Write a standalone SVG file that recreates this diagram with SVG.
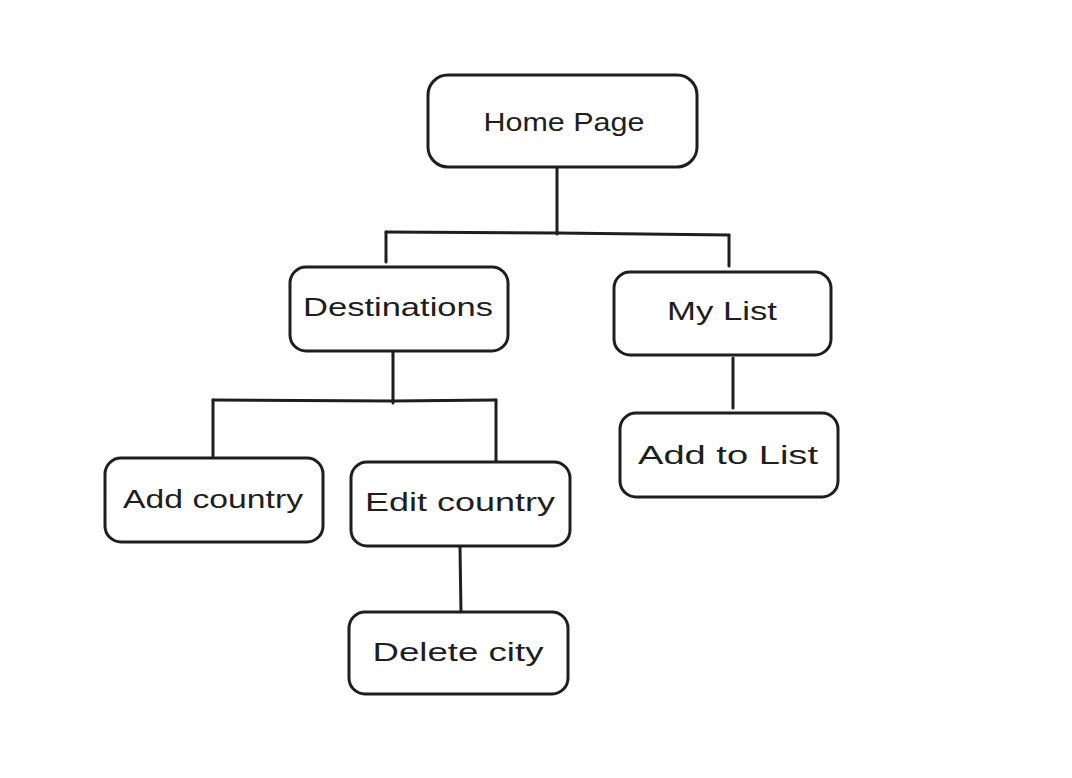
<svg xmlns="http://www.w3.org/2000/svg" width="1072" height="778" viewBox="0 0 1072 778">
<style>
.box{fill:#ffffff;stroke:#1e1e1e;stroke-width:3;stroke-linejoin:round}
.lbl{font-family:"Liberation Sans","DejaVu Sans",sans-serif;font-size:26px;fill:#1e1e1e;text-anchor:middle}
.con{fill:none;stroke:#1e1e1e;stroke-width:3;stroke-linecap:round;stroke-linejoin:round}
</style>
<rect width="1072" height="778" fill="#ffffff"/>
<g id="connectors">
<path class="con" d="M557 167 L557 234"/>
<path class="con" d="M386 232 L557 233 L729 235"/>
<path class="con" d="M386 232 L386 262"/>
<path class="con" d="M729 235 L729 266"/>
<path class="con" d="M393 351 L393 403"/>
<path class="con" d="M213 400 L393 401 L496 400"/>
<path class="con" d="M213 400 L213 456"/>
<path class="con" d="M496 400 L496 463"/>
<path class="con" d="M733 358 L733 408"/>
<path class="con" d="M460 547 L461 613"/>
</g>
<g id="home-page">
<rect class="box" x="428" y="75" width="269" height="92" rx="20"/>
<text class="lbl" x="564" y="131" textLength="161" lengthAdjust="spacingAndGlyphs">Home Page</text>
</g>
<g id="destinations">
<rect class="box" x="290" y="267" width="218" height="84" rx="16"/>
<text class="lbl" x="398" y="316" textLength="190" lengthAdjust="spacingAndGlyphs">Destinations</text>
</g>
<g id="my-list">
<rect class="box" x="614" y="272" width="217" height="83" rx="16"/>
<text class="lbl" x="722" y="320" textLength="110" lengthAdjust="spacingAndGlyphs">My List</text>
</g>
<g id="add-to-list">
<rect class="box" x="620" y="413" width="218" height="84" rx="16"/>
<text class="lbl" x="728" y="464" textLength="180" lengthAdjust="spacingAndGlyphs">Add to List</text>
</g>
<g id="add-country">
<rect class="box" x="105" y="458" width="218" height="84" rx="16"/>
<text class="lbl" x="213" y="508" textLength="180" lengthAdjust="spacingAndGlyphs">Add country</text>
</g>
<g id="edit-country">
<rect class="box" x="351" y="462" width="219" height="84" rx="16"/>
<text class="lbl" x="460" y="511" textLength="190" lengthAdjust="spacingAndGlyphs">Edit country</text>
</g>
<g id="delete-city">
<rect class="box" x="349" y="612" width="219" height="82" rx="16"/>
<text class="lbl" x="458" y="661" textLength="171" lengthAdjust="spacingAndGlyphs">Delete city</text>
</g>
</svg>
